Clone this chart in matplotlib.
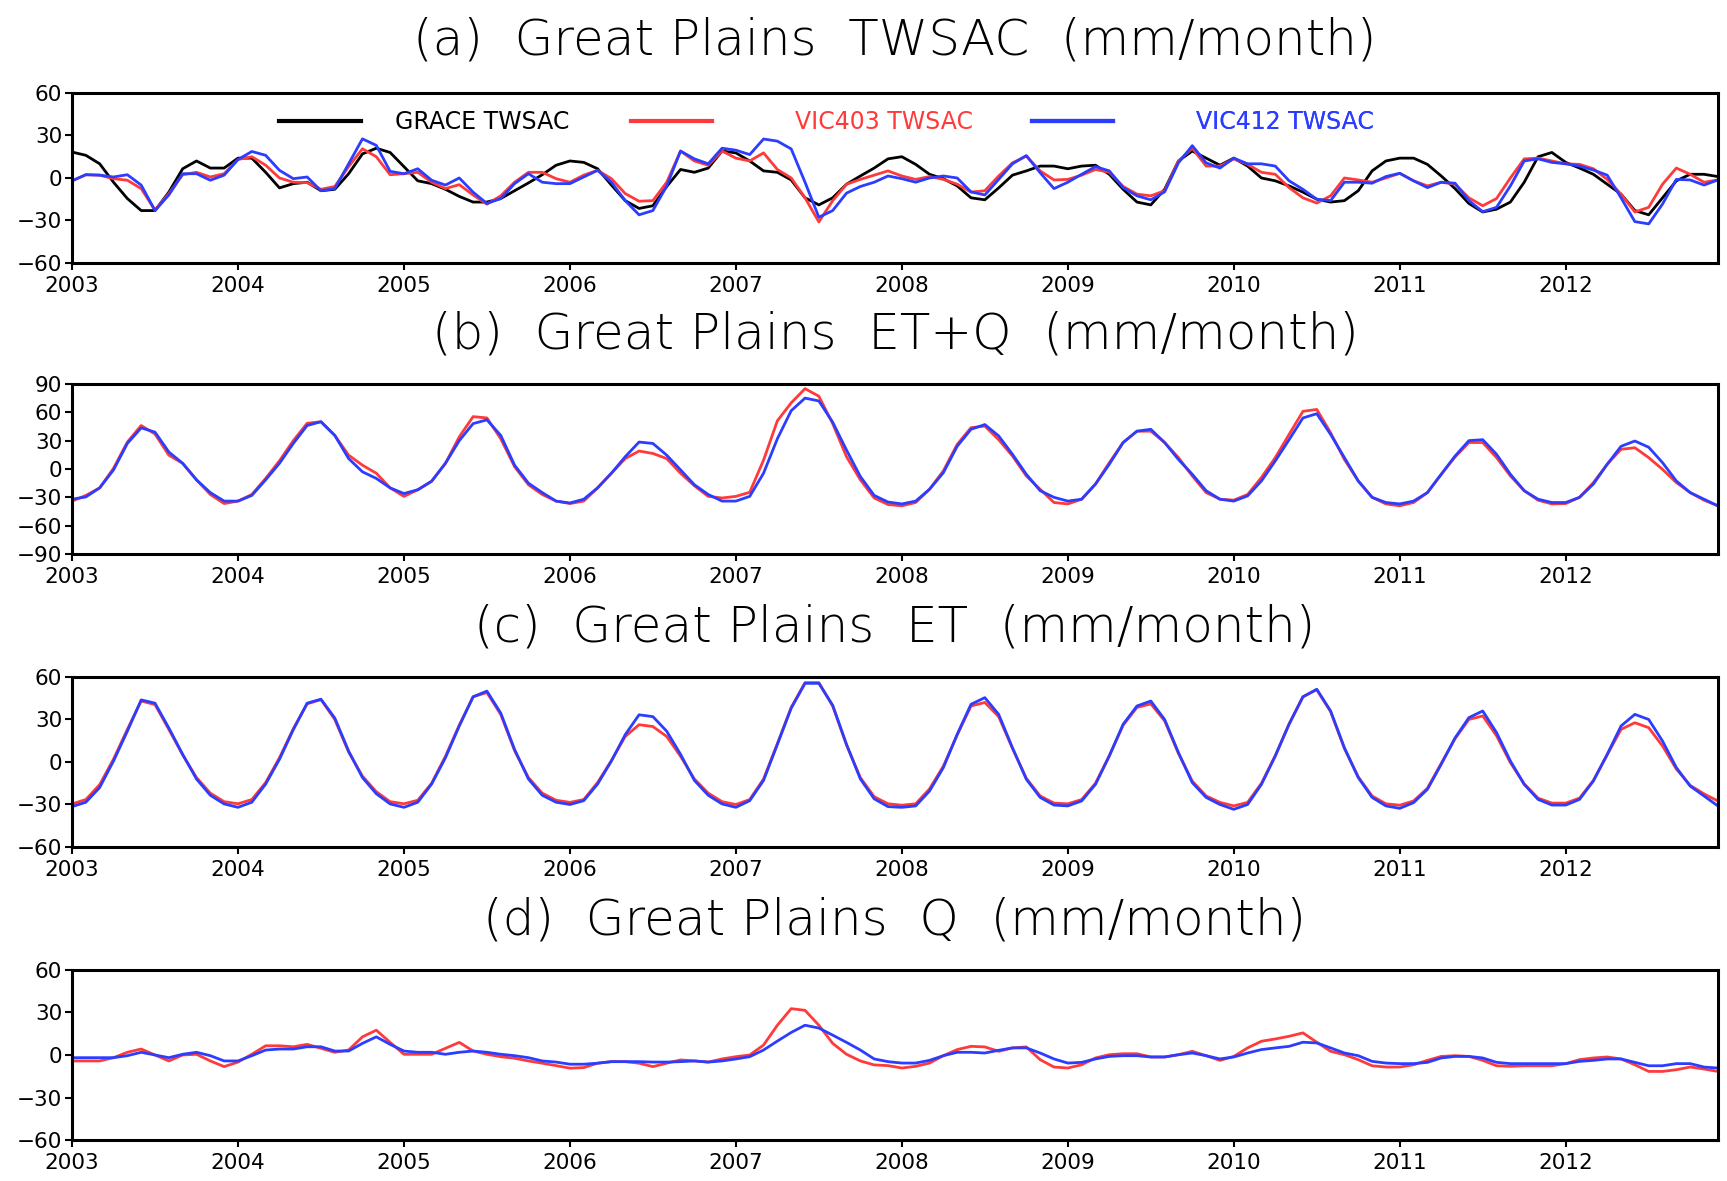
import numpy as np
import matplotlib
matplotlib.use('Agg')
import matplotlib.pyplot as plt

# monthly values, Jan 2003 - Dec 2012 (mm/month)
grace_twsac = [18.3, 16, 10, -3, -14.5, -23, -23, -10, 6.5, 12, 7, 7,
               14, 14, 4, -7, -4, -3, -9, -8, 3, 17, 21, 18,
               8, -2, -4, -8, -13, -17, -17, -14.5, -9, -3.5, 2.3, 9,
               12, 11, 6.5, -5, -16, -21.5, -19.6, -6, 6, 4, 7, 19,
               17.7, 12, 5, 4, -1.4, -14, -19, -14, -4.4, 1.4, 7, 13.5,
               15, 9.6, 2.6, -0.5, -5.6, -14, -15.4, -7, 2, 5, 8.4, 8.4,
               6.5, 8.4, 9, 2.6, -8, -17, -19, -8, 12, 19, 14, 9,
               14, 8.4, 0, -2, -5.6, -10, -15, -17, -16, -9, 5, 12,
               14, 14, 9.6, 1.4, -7.5, -18, -24, -22, -17, -3, 15, 18,
               11, 7, 2.6, -4.4, -11.4, -23, -26, -14, -2, 2.6, 2.6, 1]
vic403_twsac = [-2, 2.3, 2, -0.5, -1.6, -7.5, -22.7, -11, 2.3, 4, 0.7, 3,
                13, 15, 9, 0, -3, -3.3, -8, -6, 8, 20.6, 15, 2.3,
                3, 4, -3, -7.5, -4.7, -12, -18.5, -12.6, -3, 4, 4, -0.5,
                -3, 2, 5.4, -0.5, -11, -16.4, -16, -3, 19, 12, 9, 19,
                14, 12, 17.7, 6, 0, -14, -31, -16, -4.4, -1, 2, 5,
                1.4, -1, 1, -1, -4.4, -10, -9, 1.4, 10.7, 15.4, 5, -1.4,
                -1, 2, 6, 4, -6, -11.4, -12.6, -9, 12, 21, 8.4, 8.4,
                13.5, 9.6, 4, 2.6, -6.8, -14, -17.7, -12.6, 0, -1.4, -3, 0,
                3.3, -2, -5.6, -3, -4.4, -14, -19.6, -14.5, 0, 13.5, 14, 12,
                10, 9.6, 6.5, -1, -11.4, -24, -20.7, -4.4, 7, 2.6, -3, -1.4]
vic412_twsac = [-2, 2.3, 2, 0.7, 2.3, -5, -23, -12, 3, 3, -1.6, 2,
                13, 18.7, 16, 5.4, -0.5, 0.7, -9, -7.5, 10, 27.6, 23, 4.7,
                3, 6.5, -1.6, -5, 0, -10, -18, -14.5, -4, 3, -3, -4,
                -4, 0.7, 5.4, -3, -16, -26, -23, -5.6, 19, 13.5, 10, 21,
                19.6, 16.5, 27.5, 26, 20.5, -3, -27.7, -23, -10.7, -6, -3, 1.4,
                -0.5, -3, 0, 1.4, 0, -9.8, -12, -1, 10, 15.8, 3.7, -7.5,
                -3, 2.6, 8, 5, -6.8, -12.6, -15.4, -9.8, 10.7, 22.8, 10.7, 7,
                14, 10, 10, 8.4, -2, -8, -15, -16, -3, -3, -3.7, 1,
                3.3, -2, -6.8, -3, -3.7, -16, -23.8, -20.7, -5.6, 12, 13.5, 11,
                10, 8.4, 5.6, 2, -14, -30.8, -32.4, -18.4, -1, -1.4, -5, -1.4]

vic403_etq = [-34, -28, -20, 0.7, 28.5, 46, 37, 14.6, 6, -11.5, -27, -36.6,
              -34, -27, -10, 8.7, 30, 48.4, 50, 35.5, 14.6, 4, -4.5, -20,
              -29, -22, -13, 6, 34, 55.4, 54, 32, 2.4, -16.7, -27, -34,
              -36.6, -34, -20, -4.5, 11, 19, 16.4, 11, -4.5, -17.8, -29, -30.7,
              -29, -24.7, 9.4, 51, 70, 85, 77, 48, 13, -11.5, -30.7, -37.6,
              -39, -35.5, -21.5, -2, 26, 43.7, 45.4, 31, 13.7, -7.4, -21.5, -35.5,
              -37, -32, -16, 6.7, 28, 40, 40, 28, 12, -7.4, -25, -32,
              -33, -27, -9, 12, 36.6, 61, 63, 38.4, 10, -12.7, -30, -37,
              -39, -35.5, -25, -5.6, 12.7, 28, 28, 12, -7.4, -23, -33, -37,
              -36.6, -30, -14.4, 5, 20.8, 22.5, 12, -0.4, -14.4, -25, -33, -39]
vic412_etq = [-32, -29.6, -20, -1, 27, 43.5, 39, 18, 6, -11.5, -25, -34,
              -34, -28, -11.5, 6, 27, 46, 50, 35.5, 11, -3, -10, -20,
              -26, -22, -13, 6, 30, 48, 52, 35.5, 4, -15, -25, -34,
              -36, -32, -20, -4.5, 13, 28.5, 27, 14.6, -1, -16.7, -27, -34,
              -34, -29, -4.5, 32, 61.7, 75, 72, 49.5, 20, -8, -28, -35,
              -37, -34, -21.5, -4, 24, 42, 47, 35, 15.5, -5.6, -23, -30,
              -34, -32, -16, 5, 28, 40, 42, 28, 10, -5.6, -23, -32,
              -34, -28.5, -12.7, 8.5, 31, 54, 58.5, 36.6, 12, -12.7, -30, -35.5,
              -37, -34, -25, -5.6, 13.7, 30, 31, 15.5, -5.6, -23, -32, -35.5,
              -35.5, -30, -16, 5, 24, 29.6, 23, 6.7, -12.7, -25, -32, -39]

vic403_et = [-29.6, -26.5, -16, 2, 23, 43, 40.5, 23, 5, -11, -22, -28,
             -29.5, -26.5, -14.5, 3, 23.5, 41, 44, 30, 7, -10, -21, -28,
             -29.5, -27, -15, 4, 26, 46, 49, 33.5, 8, -11, -22, -27,
             -28.5, -26.5, -14.5, 1, 18, 26.3, 25, 18, 4, -12, -22, -28,
             -30, -26.5, -12, 13, 38.5, 56, 56, 39.5, 12, -11, -24.5, -29.5,
             -30.5, -29.5, -19, -3, 19, 39.5, 42, 32, 9.5, -11.5, -24, -29,
             -29.5, -26.5, -15, 4.5, 26, 38.5, 41, 29, 6, -13.5, -24, -28.5,
             -31, -28.5, -15, 4.5, 27, 46, 51, 35.5, 9.5, -10.5, -24, -29.5,
             -30.5, -27.5, -18.5, -1, 16.5, 30, 32.5, 18.5, -0.5, -15.5, -25.5, -29,
             -29, -25.5, -13, 5, 23, 27.7, 24.2, 11.3, -5, -16.5, -22.5, -27.5]
vic412_et = [-31.5, -28.4, -18, 0.7, 21.7, 43.8, 41.5, 24, 5.4, -12, -23.5, -29.6,
             -32, -28.4, -15.6, 1.9, 22.8, 41.5, 44.3, 31, 7.7, -11, -22.4, -29.6,
             -32, -28.4, -15.6, 3, 25.4, 46, 50, 34.5, 8.8, -12, -23.5, -28.4,
             -30, -27.3, -15.6, 0.7, 19.3, 33.3, 32, 21.7, 5.4, -13, -23.5, -29.6,
             -32, -27.3, -13, 12.4, 38, 55.5, 55.5, 40, 12.4, -12, -26, -31.5,
             -32, -31, -20.5, -4, 19.5, 40.7, 45.4, 33.6, 10, -12.2, -25, -30.4,
             -31, -27.5, -15.8, 4.2, 26.6, 39.5, 43, 30, 6.6, -14.6, -25, -30,
             -33.4, -30, -15.8, 4.2, 26.6, 46, 51.3, 36, 10, -11, -25, -31,
             -32.7, -28.7, -19.3, -1.6, 17, 31.3, 36, 20.7, 0.7, -15.8, -26.4, -30.4,
             -30.4, -26.4, -13.4, 5.4, 25.4, 33.6, 30, 14.8, -4, -17, -24, -31]

vic403_q = [-4.2, -4.2, -4.2, -1.9, 1.9, 4.2, 0, -4.2, 0, 0.5, -4.2, -8.2,
            -5, 0.5, 6.5, 6.5, 5.8, 7.5, 4.7, 1.9, 3.5, 12.8, 17.5, 8.9,
            0.5, 0.5, 0.5, 4.7, 8.9, 2.8, 0.5, -1.2, -2.3, -4.2, -5.8, -7.5,
            -9.3, -8.9, -5.8, -4.7, -4.7, -5.8, -8.2, -5.8, -3.5, -4.2, -5, -2.8,
            -1.2, 0, 7, 21, 32.7, 31.5, 21, 8.2, 0.5, -4.2, -7, -7.5,
            -9.2, -8, -5.7, -0.5, 3.8, 6.1, 5.7, 2.6, 5, 5.7, -3.3, -8.5,
            -9.2, -6.9, -2.1, 0.2, 0.9, 0.9, -1.4, -1.4, 0.2, 2.6, -0.5, -3.8,
            -1, 5, 9.7, 11.3, 13.2, 15.6, 9, 2.6, 0.2, -3.3, -7.6, -8.5,
            -8.5, -6.9, -3.8, -1, -0.5, -1, -3.8, -7.6, -8, -7.6, -7.6, -7.6,
            -6.1, -3.3, -2.1, -1.4, -2.8, -6.9, -11.6, -11.6, -10.4, -8.5, -9.9, -11.6]
vic412_q = [-1.9, -1.9, -1.9, -1.9, -0.5, 1.9, 0, -1.9, 0.5, 1.9, -0.5, -4.2,
            -4.2, -0.5, 3.5, 4.2, 4.2, 5.8, 5.8, 2.8, 2.8, 8.2, 12.8, 7.5,
            2.8, 1.9, 1.9, 0.5, 1.9, 2.8, 1.9, 0.5, -0.5, -1.9, -4.2, -5,
            -6.5, -6.5, -5.8, -4.7, -4.7, -4.7, -5, -5, -4.7, -4.2, -5, -4.2,
            -2.8, -1.2, 3.5, 9.8, 15.9, 21, 19, 14, 8.9, 3.5, -2.8, -4.7,
            -5.7, -5.7, -3.8, -0.5, 1.9, 1.9, 1.4, 3.3, 5, 5, 1.4, -2.8,
            -5.7, -5.2, -2.8, -1, -0.5, -0.5, -1.4, -1.4, 0.2, 1.4, -0.5, -2.8,
            -1.4, 1.4, 3.8, 5, 6.1, 9, 8.5, 5, 1.4, -0.5, -4.5, -5.7,
            -6.1, -6.1, -5.2, -2.1, -1, -1, -2.1, -5.2, -6.1, -6.1, -6.1, -6.1,
            -6.1, -4.5, -3.8, -2.8, -2.8, -5.2, -7.6, -7.6, -6.1, -6.1, -8.5, -9.2]

years = [2003, 2004, 2005, 2006, 2007, 2008, 2009, 2010, 2011, 2012]
legend_labels = ['GRACE TWSAC', 'VIC403 TWSAC', 'VIC412 TWSAC']
t = 2003 + np.arange(len(grace_twsac)) / 12.0

red = '#ff3a3a'
blue = '#2b3dff'

fig = plt.figure(figsize=(17.27, 11.81), dpi=100)

panels = [
    ('(a)  Great Plains  TWSAC  (mm/month)', [grace_twsac, vic403_twsac, vic412_twsac],
     ['black', red, blue], [-60, -30, 0, 30, 60], 0.7773, 1.31),
    ('(b)  Great Plains  ET+Q  (mm/month)', [vic403_etq, vic412_etq],
     [red, blue], [-90, -60, -30, 0, 30, 60, 90], 0.5309, 1.29),
    ('(c)  Great Plains  ET  (mm/month)', [vic403_et, vic412_et],
     [red, blue], [-60, -30, 0, 30, 60], 0.2828, 1.29),
    ('(d)  Great Plains  Q  (mm/month)', [vic403_q, vic412_q],
     [red, blue], [-60, -30, 0, 30, 60], 0.0347, 1.29),
]

for title, series, colors, yt, bottom, ty in panels:
    ax = fig.add_axes([0.0417, bottom, 0.953, 0.1440])
    lines = []
    for s, c in zip(series, colors):
        ln, = ax.plot(t, s, color=c, lw=2.0)
        lines.append(ln)
    ax.set_xlim(t[0], t[-1])
    ax.set_ylim(yt[0], yt[-1])
    ax.set_yticks(yt)
    ax.set_xticks(years)
    ax.set_xticklabels([str(y) for y in years])
    ax.tick_params(axis='both', direction='out', length=5, width=1.5,
                   labelsize=15.5, pad=2)
    ax.tick_params(axis='x', pad=4)
    for sp in ax.spines.values():
        sp.set_linewidth(2.2)
    ax.text(0.5, ty, title, transform=ax.transAxes, ha='center', va='center',
            fontsize=36, fontweight='light')
    if len(series) == 3:
        # one legend entry per position, like the original layout
        for ln, lab, c, x0, tp in zip(lines, legend_labels, colors,
                                      [0.1258, 0.3396, 0.5832], [1.45, 3.5, 3.5]):
            leg = ax.legend([ln], [lab], loc='center left',
                            bbox_to_anchor=(x0, 0.83), frameon=False,
                            fontsize=17, handlelength=3.45, handletextpad=tp,
                            borderpad=0, borderaxespad=0)
            leg.get_texts()[0].set_color(c)
            leg.legend_handles[0].set_linewidth(3)
            ax.add_artist(leg)

fig.savefig('out.png', dpi=100)
